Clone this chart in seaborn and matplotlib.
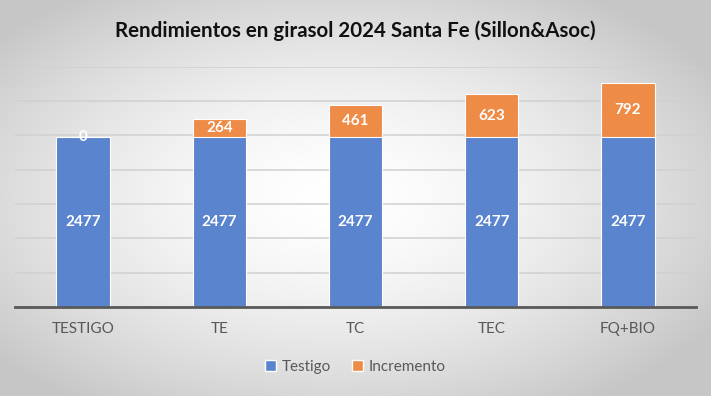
import numpy as np
import pandas as pd
import matplotlib
matplotlib.use("Agg")
import matplotlib.pyplot as plt
import seaborn as sns
from matplotlib.patches import Patch

categories = ["TESTIGO", "TE", "TC", "TEC", "FQ+BIO"]
testigo = [2477, 2477, 2477, 2477, 2477]
incremento = [0, 264, 461, 623, 792]
title = "Rendimientos en girasol 2024 Santa Fe (Sillon&Asoc)"

sns.set_theme(style="white")
plt.rcParams["font.family"] = ["Lato", "DejaVu Sans"]

BLUE = "#5A84CD"
ORANGE = "#EE8B46"

df = pd.DataFrame({"cat": categories, "testigo": testigo, "inc": incremento})
df["total"] = df["testigo"] + df["inc"]

fig = plt.figure(figsize=(7.11, 3.96), dpi=100)

# radial gradient background
bg = fig.add_axes([0, 0, 1, 1], zorder=-10)
h, w = 396, 711
yy, xx = np.mgrid[0:h, 0:w]
r = np.sqrt(((xx - w * 0.47) / (w * 0.62)) ** 2 + ((yy - h * 0.5) / (h * 0.62)) ** 2)
r = np.clip(r, 0, 1)
val = 1.0 - 0.22 * r ** 1.6
img = np.dstack([val, val, val])
bg.imshow(img, aspect="auto", extent=[0, 1, 0, 1], origin="upper")
bg.set_xlim(0, 1); bg.set_ylim(0, 1)
bg.axis("off")

ax = fig.add_axes([0.021, 0.225, 0.958, 0.606])
ax.patch.set_alpha(0)

sns.barplot(data=df, x="cat", y="total", color=ORANGE, saturation=1, width=0.39,
            edgecolor="white", linewidth=0.8, ax=ax, zorder=3)
sns.barplot(data=df, x="cat", y="testigo", color=BLUE, saturation=1, width=0.39,
            edgecolor="white", linewidth=0.8, ax=ax, zorder=4)

ax.set_ylim(0, 3500)
ax.set_xlim(-0.5, 4.5)
ax.set_yticks(np.arange(0, 3501, 500))
ax.yaxis.grid(True, color="#D0D0D0", linewidth=1.1, zorder=0)
ax.set_axisbelow(True)
ax.tick_params(axis="y", left=False, labelleft=False)
ax.tick_params(axis="x", bottom=False, labelsize=11, labelcolor="#595959", pad=5)
for s in ["top", "right", "left"]:
    ax.spines[s].set_visible(False)
ax.spines["bottom"].set_color("#595959")
ax.spines["bottom"].set_linewidth(2)
ax.spines["bottom"].set_zorder(6)
ax.set_xlabel("")
ax.set_ylabel("")

for i, (t, inc) in enumerate(zip(testigo, incremento)):
    ax.text(i, t / 2, f"{t}", ha="center", va="center", color="white",
            fontsize=11, fontweight="bold", zorder=7)
    ax.text(i, t + inc / 2, f"{inc}", ha="center", va="center", color="white",
            fontsize=11, fontweight="bold", zorder=7)

fig.text(0.5, 0.922, title, ha="center", va="center", fontsize=14.8,
         fontweight="bold", color="#111111")

handles = [Patch(facecolor=BLUE, label="Testigo"), Patch(facecolor=ORANGE, label="Incremento")]
fig.legend(handles=handles, loc="center", bbox_to_anchor=(0.5, 0.073), ncol=2,
           frameon=False, fontsize=11, handlelength=0.7, handleheight=0.7,
           handletextpad=0.4, columnspacing=1.4, labelcolor="#595959")

fig.savefig("out.png", dpi=100)
